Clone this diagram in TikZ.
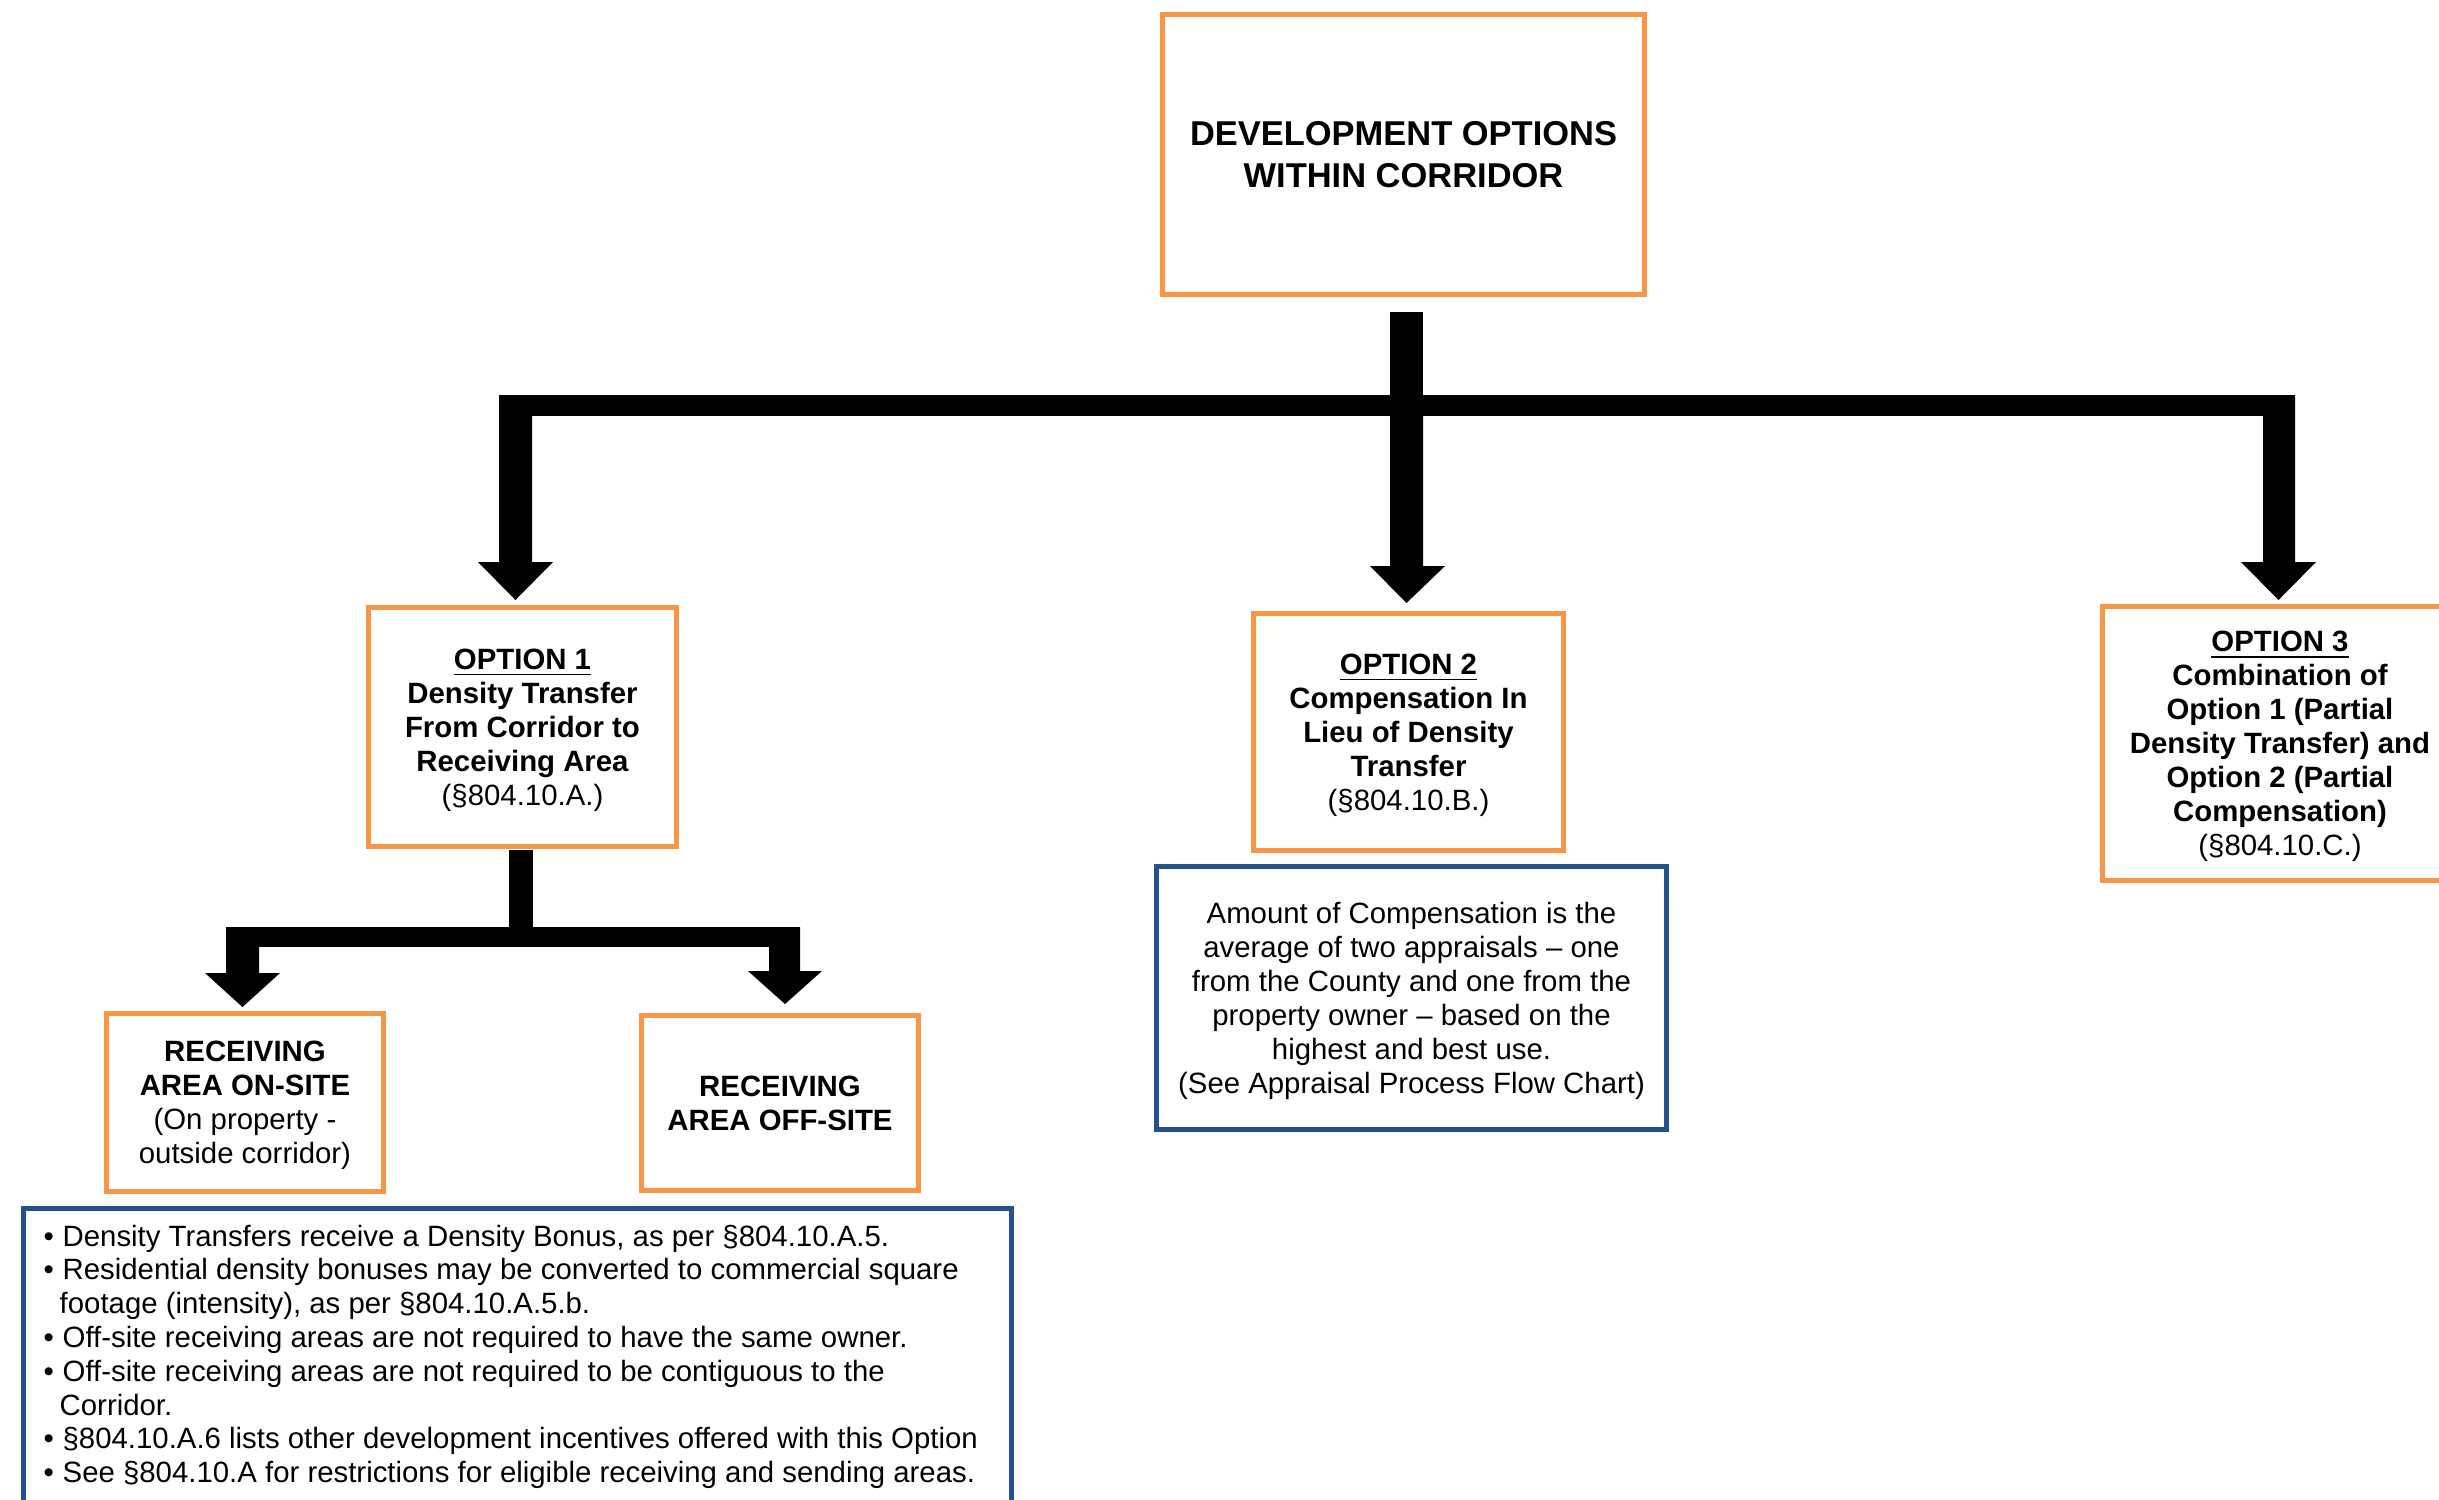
\documentclass[tikz,border=0pt]{standalone}
\usepackage{fontspec}
\setmainfont{Liberation Sans}
\definecolor{boxorange}{HTML}{F79646}
\definecolor{boxblue}{HTML}{26508C}
\newcommand{\bul}{\makebox[5.4pt][l]{•}}
\newcommand{\cont}{\hspace*{4.55pt}}
\newcommand{\tstrut}{\rule{0pt}{0.905em}}
\newcommand{\bstrut}{\rule[-0.212em]{0pt}{0pt}}
\tikzset{
  obox/.style={draw=boxorange, line width=1.42pt, fill=white, align=center, inner sep=0pt,
    font=\fontsize{8.35}{9.65}\selectfont\bfseries},
  bbox/.style={draw=boxblue, line width=1.42pt, fill=white, align=center, inner sep=0pt,
    font=\fontsize{8.35}{9.65}\selectfont},
  blockarrow/.style={fill=black, draw=none},
}
\begin{document}
\begin{tikzpicture}[x=0.01cm,y=-0.01cm]
\path[use as bounding box] (0,0) rectangle (2439,1499);
\clip (0,0) rectangle (2439,1499);
\fill[white] (0,0) rectangle (2439,1499);

% boxes
\node[obox, minimum width=4.82cm, minimum height=2.80cm, font=\fontsize{9.8}{11.9}\selectfont\bfseries]
  (top) at (1403.5,154.5) {\tstrut DEVELOPMENT OPTIONS\\WITHIN CORRIDOR\bstrut};

\node[obox, minimum width=3.08cm, minimum height=2.39cm] (opt1) at (522.5,727)
  {\tstrut\underline{OPTION 1}\\Density Transfer\\From Corridor to\\Receiving Area\\\mdseries(§804.10.A.)\bstrut};

\node[obox, minimum width=3.10cm, minimum height=2.37cm] (opt2) at (1408.5,732)
  {\tstrut\underline{OPTION 2}\\Compensation In\\Lieu of Density\\Transfer\\\mdseries(§804.10.B.)\bstrut};

\node[obox, minimum width=3.54cm, minimum height=2.74cm] (opt3) at (2280,743.5)
  {\tstrut\underline{OPTION 3}\\Combination of\\Option 1 (Partial\\Density Transfer) and\\Option 2 (Partial\\Compensation)\\\mdseries(§804.10.C.)\bstrut};

\node[obox, minimum width=2.77cm, minimum height=1.77cm] (onsite) at (245,1102.5)
  {\tstrut RECEIVING\\AREA ON-SITE\\\mdseries(On property -\\\mdseries outside corridor)\bstrut};

\node[obox, minimum width=2.77cm, minimum height=1.75cm] (offsite) at (780,1103)
  {\tstrut RECEIVING\\AREA OFF-SITE\bstrut};

\node[bbox, minimum width=5.10cm, minimum height=2.63cm] (comp) at (1411.5,998)
  {\tstrut Amount of Compensation is the\\average of two appraisals – one\\from the County and one from the\\property owner – based on the\\highest and best use.\\(See Appraisal Process Flow Chart)\bstrut};

\node[bbox, anchor=north west, minimum width=9.87cm, minimum height=3.6cm] (notes) at (21,1206) {};
\node[anchor=north west, inner sep=0pt, align=left, font=\fontsize{8.35}{9.62}\selectfont] (notestext) at (43,1224)
  {\bul Density Transfers receive a Density Bonus, as per §804.10.A.5.\\
   \bul Residential density bonuses may be converted to commercial square\\
   \cont footage (intensity), as per §804.10.A.5.b.\\
   \bul Off-site receiving areas are not required to have the same owner.\\
   \bul Off-site receiving areas are not required to be contiguous to the\\
   \cont Corridor.\\
   \bul §804.10.A.6 lists other development incentives offered with this Option\\
   \bul See §804.10.A for restrictions for eligible receiving and sending areas.};

% main connector: top -> options
\fill[blockarrow] (1390,312) rectangle (1423,416);
\fill[blockarrow] (499,395) rectangle (2295,416);
\fill[blockarrow] (499,395) -- (532,395) -- (532,562) -- (553,562) -- (515.5,600) -- (478,562) -- (499,562) -- cycle;
\fill[blockarrow] (1390,405) -- (1423,405) -- (1423,566) -- (1445,566) -- (1406.5,603) -- (1370,566) -- (1390,566) -- cycle;
\fill[blockarrow] (2263,395) -- (2295,395) -- (2295,562) -- (2316,562) -- (2278.5,600) -- (2241,562) -- (2263,562) -- cycle;

% second connector: option 1 -> receiving areas
\fill[blockarrow] (509,850) rectangle (533,947);
\fill[blockarrow] (226,927) rectangle (800,947);
\fill[blockarrow] (226,927) -- (259,927) -- (259,973) -- (280,973) -- (242.5,1007) -- (205,973) -- (226,973) -- cycle;
\fill[blockarrow] (769,927) -- (800,927) -- (800,971) -- (822,971) -- (785,1004) -- (748,971) -- (769,971) -- cycle;
\end{tikzpicture}
\end{document}
